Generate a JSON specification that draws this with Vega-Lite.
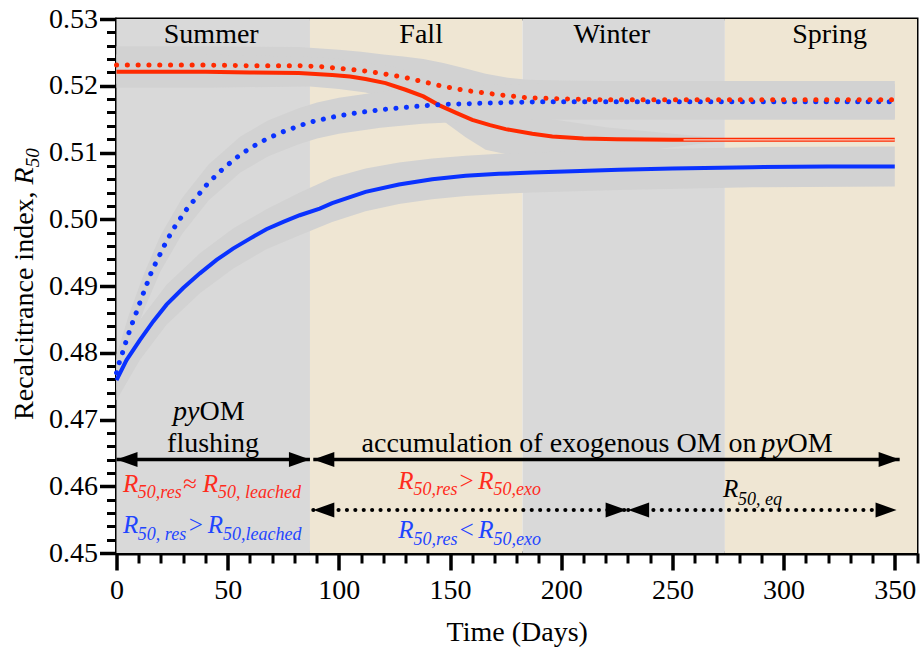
{
  "$schema": "https://vega.github.io/schema/vega-lite/v6.json",
  "width": 800.5,
  "height": 534,
  "autosize": "none",
  "padding": {"left": 116.5, "top": 19, "right": 3, "bottom": 98},
  "background": "white",
  "config": {
    "view": {"stroke": "black", "strokeWidth": 3},
    "text": {"font": "Liberation Serif"},
    "axis": {"labelFont": "Liberation Serif", "titleFont": "Liberation Serif"}
  },
  "datasets": {
    "seasons": [
      {"season": "Summer", "start": 0, "end": 87},
      {"season": "Fall", "start": 87, "end": 182.6},
      {"season": "Winter", "start": 182.6, "end": 273.6},
      {"season": "Spring", "start": 273.6, "end": 360}
    ],
    "bands": [
      {"band": "rd", "day": 0, "lo": 0.5203, "hi": 0.5259},
      {"band": "rd", "day": 40, "lo": 0.5203, "hi": 0.5259},
      {"band": "rd", "day": 82, "lo": 0.5202, "hi": 0.5258},
      {"band": "rd", "day": 100, "lo": 0.5198, "hi": 0.5254},
      {"band": "rd", "day": 110, "lo": 0.5195, "hi": 0.5251},
      {"band": "rd", "day": 120, "lo": 0.519, "hi": 0.5247},
      {"band": "rd", "day": 129, "lo": 0.5185, "hi": 0.5244},
      {"band": "rd", "day": 138, "lo": 0.5178, "hi": 0.524},
      {"band": "rd", "day": 147, "lo": 0.5171, "hi": 0.5234},
      {"band": "rd", "day": 157, "lo": 0.5165, "hi": 0.5226},
      {"band": "rd", "day": 166, "lo": 0.5161, "hi": 0.5218},
      {"band": "rd", "day": 176, "lo": 0.5157, "hi": 0.5212},
      {"band": "rd", "day": 185, "lo": 0.5154, "hi": 0.5209},
      {"band": "rd", "day": 200, "lo": 0.5152, "hi": 0.5208},
      {"band": "rd", "day": 220, "lo": 0.5151, "hi": 0.5207},
      {"band": "rd", "day": 350, "lo": 0.5151, "hi": 0.5207},
      {"band": "rs", "day": 0, "lo": 0.5197, "hi": 0.5247},
      {"band": "rs", "day": 40, "lo": 0.5197, "hi": 0.5247},
      {"band": "rs", "day": 87, "lo": 0.5199, "hi": 0.5243},
      {"band": "rs", "day": 100, "lo": 0.5195, "hi": 0.524},
      {"band": "rs", "day": 112, "lo": 0.519, "hi": 0.5234},
      {"band": "rs", "day": 125, "lo": 0.5178, "hi": 0.5228},
      {"band": "rs", "day": 135, "lo": 0.5165, "hi": 0.522},
      {"band": "rs", "day": 145, "lo": 0.5152, "hi": 0.5208},
      {"band": "rs", "day": 157, "lo": 0.5123, "hi": 0.5192},
      {"band": "rs", "day": 166, "lo": 0.5104, "hi": 0.518},
      {"band": "rs", "day": 180, "lo": 0.5094, "hi": 0.5166},
      {"band": "rs", "day": 196, "lo": 0.5095, "hi": 0.515},
      {"band": "rs", "day": 220, "lo": 0.5099, "hi": 0.5138},
      {"band": "rs", "day": 241, "lo": 0.5104, "hi": 0.5131},
      {"band": "rs", "day": 260, "lo": 0.5112, "hi": 0.5125},
      {"band": "rs", "day": 275, "lo": 0.5118, "hi": 0.512},
      {"band": "rs", "day": 290, "lo": 0.5119, "hi": 0.5119},
      {"band": "rs", "day": 350, "lo": 0.5119, "hi": 0.5119},
      {"band": "bd", "day": 0, "lo": 0.4743, "hi": 0.4797},
      {"band": "bd", "day": 5.7, "lo": 0.4804, "hi": 0.4858},
      {"band": "bd", "day": 12.3, "lo": 0.4864, "hi": 0.4918},
      {"band": "bd", "day": 19.8, "lo": 0.4922, "hi": 0.4976},
      {"band": "bd", "day": 29.5, "lo": 0.4978, "hi": 0.5032},
      {"band": "bd", "day": 41.4, "lo": 0.5028, "hi": 0.5082},
      {"band": "bd", "day": 55.7, "lo": 0.507, "hi": 0.5124},
      {"band": "bd", "day": 68.1, "lo": 0.5094, "hi": 0.5148},
      {"band": "bd", "day": 81.6, "lo": 0.5112, "hi": 0.5166},
      {"band": "bd", "day": 90.2, "lo": 0.5121, "hi": 0.5175},
      {"band": "bd", "day": 100, "lo": 0.5128, "hi": 0.5182},
      {"band": "bd", "day": 118.7, "lo": 0.5137, "hi": 0.5191},
      {"band": "bd", "day": 137.6, "lo": 0.5143, "hi": 0.5197},
      {"band": "bd", "day": 157, "lo": 0.5146, "hi": 0.52},
      {"band": "bd", "day": 176, "lo": 0.5148, "hi": 0.5202},
      {"band": "bd", "day": 190, "lo": 0.5149, "hi": 0.5203},
      {"band": "bd", "day": 350, "lo": 0.5149, "hi": 0.5203},
      {"band": "bs", "day": 0, "lo": 0.4729, "hi": 0.4789},
      {"band": "bs", "day": 10.5, "lo": 0.4789, "hi": 0.4849},
      {"band": "bs", "day": 22.5, "lo": 0.4842, "hi": 0.4902},
      {"band": "bs", "day": 37.5, "lo": 0.4889, "hi": 0.4949},
      {"band": "bs", "day": 52.4, "lo": 0.4926, "hi": 0.4986},
      {"band": "bs", "day": 67.4, "lo": 0.4955, "hi": 0.5015},
      {"band": "bs", "day": 82.4, "lo": 0.4976, "hi": 0.504},
      {"band": "bs", "day": 97, "lo": 0.4996, "hi": 0.5062},
      {"band": "bs", "day": 112, "lo": 0.5012, "hi": 0.5076},
      {"band": "bs", "day": 127, "lo": 0.5023, "hi": 0.5085},
      {"band": "bs", "day": 142, "lo": 0.503, "hi": 0.5091},
      {"band": "bs", "day": 157, "lo": 0.5035, "hi": 0.5095},
      {"band": "bs", "day": 172, "lo": 0.5038, "hi": 0.5098},
      {"band": "bs", "day": 187, "lo": 0.504, "hi": 0.51},
      {"band": "bs", "day": 226, "lo": 0.5044, "hi": 0.5104},
      {"band": "bs", "day": 286, "lo": 0.5048, "hi": 0.5108},
      {"band": "bs", "day": 350, "lo": 0.5049, "hi": 0.5109}
    ],
    "curves": [
      {"series": "rd", "day": 0, "value": 0.5231},
      {"series": "rd", "day": 20, "value": 0.5231},
      {"series": "rd", "day": 40, "value": 0.5231},
      {"series": "rd", "day": 60, "value": 0.523},
      {"series": "rd", "day": 82, "value": 0.523},
      {"series": "rd", "day": 91, "value": 0.5229},
      {"series": "rd", "day": 100, "value": 0.5226},
      {"series": "rd", "day": 110, "value": 0.5223},
      {"series": "rd", "day": 120, "value": 0.5218},
      {"series": "rd", "day": 129, "value": 0.5213},
      {"series": "rd", "day": 138, "value": 0.5206},
      {"series": "rd", "day": 147, "value": 0.5199},
      {"series": "rd", "day": 157, "value": 0.5193},
      {"series": "rd", "day": 166, "value": 0.5189},
      {"series": "rd", "day": 176, "value": 0.5185},
      {"series": "rd", "day": 185, "value": 0.5182},
      {"series": "rd", "day": 195, "value": 0.5181},
      {"series": "rd", "day": 205, "value": 0.518},
      {"series": "rd", "day": 220, "value": 0.5179},
      {"series": "rd", "day": 250, "value": 0.5179},
      {"series": "rd", "day": 300, "value": 0.5179},
      {"series": "rd", "day": 350, "value": 0.5179},
      {"series": "rs", "day": 0, "value": 0.5221},
      {"series": "rs", "day": 20, "value": 0.5221},
      {"series": "rs", "day": 40, "value": 0.5221},
      {"series": "rs", "day": 60, "value": 0.522},
      {"series": "rs", "day": 82, "value": 0.5219},
      {"series": "rs", "day": 97, "value": 0.5216},
      {"series": "rs", "day": 105, "value": 0.5214},
      {"series": "rs", "day": 112, "value": 0.521},
      {"series": "rs", "day": 121, "value": 0.5204},
      {"series": "rs", "day": 130, "value": 0.5194},
      {"series": "rs", "day": 138, "value": 0.5184},
      {"series": "rs", "day": 145, "value": 0.5171},
      {"series": "rs", "day": 153, "value": 0.5159},
      {"series": "rs", "day": 160, "value": 0.5149},
      {"series": "rs", "day": 168, "value": 0.5141},
      {"series": "rs", "day": 175, "value": 0.5135},
      {"series": "rs", "day": 187, "value": 0.5128},
      {"series": "rs", "day": 196, "value": 0.5124},
      {"series": "rs", "day": 210, "value": 0.5121},
      {"series": "rs", "day": 225, "value": 0.512},
      {"series": "rs", "day": 250, "value": 0.5119},
      {"series": "rs", "day": 300, "value": 0.5119},
      {"series": "rs", "day": 350, "value": 0.5119},
      {"series": "rsh", "day": 255, "value": 0.5119},
      {"series": "rsh", "day": 350, "value": 0.5119},
      {"series": "bd", "day": 0, "value": 0.477},
      {"series": "bd", "day": 1.2, "value": 0.4785},
      {"series": "bd", "day": 2.7, "value": 0.48},
      {"series": "bd", "day": 4.2, "value": 0.4816},
      {"series": "bd", "day": 5.7, "value": 0.4831},
      {"series": "bd", "day": 7.3, "value": 0.4846},
      {"series": "bd", "day": 9.0, "value": 0.4861},
      {"series": "bd", "day": 10.6, "value": 0.4876},
      {"series": "bd", "day": 12.3, "value": 0.4891},
      {"series": "bd", "day": 14, "value": 0.4906},
      {"series": "bd", "day": 15.7, "value": 0.4921},
      {"series": "bd", "day": 17.7, "value": 0.4935},
      {"series": "bd", "day": 19.8, "value": 0.4949},
      {"series": "bd", "day": 22, "value": 0.4964},
      {"series": "bd", "day": 24.3, "value": 0.4978},
      {"series": "bd", "day": 26.8, "value": 0.4992},
      {"series": "bd", "day": 29.5, "value": 0.5005},
      {"series": "bd", "day": 32.2, "value": 0.5018},
      {"series": "bd", "day": 35.3, "value": 0.503},
      {"series": "bd", "day": 38.4, "value": 0.5043},
      {"series": "bd", "day": 41.4, "value": 0.5055},
      {"series": "bd", "day": 44.9, "value": 0.5066},
      {"series": "bd", "day": 48.3, "value": 0.5077},
      {"series": "bd", "day": 52.1, "value": 0.5087},
      {"series": "bd", "day": 55.7, "value": 0.5097},
      {"series": "bd", "day": 59.9, "value": 0.5106},
      {"series": "bd", "day": 63.9, "value": 0.5114},
      {"series": "bd", "day": 68.1, "value": 0.5121},
      {"series": "bd", "day": 72.6, "value": 0.5128},
      {"series": "bd", "day": 77.1, "value": 0.5134},
      {"series": "bd", "day": 81.6, "value": 0.5139},
      {"series": "bd", "day": 85.5, "value": 0.5144},
      {"series": "bd", "day": 90.2, "value": 0.5148},
      {"series": "bd", "day": 100, "value": 0.5155},
      {"series": "bd", "day": 109.4, "value": 0.516},
      {"series": "bd", "day": 118.7, "value": 0.5164},
      {"series": "bd", "day": 128, "value": 0.5167},
      {"series": "bd", "day": 137.6, "value": 0.517},
      {"series": "bd", "day": 147, "value": 0.5172},
      {"series": "bd", "day": 157, "value": 0.5173},
      {"series": "bd", "day": 166, "value": 0.5174},
      {"series": "bd", "day": 176, "value": 0.5175},
      {"series": "bd", "day": 190, "value": 0.5176},
      {"series": "bd", "day": 220, "value": 0.5176},
      {"series": "bd", "day": 260, "value": 0.5176},
      {"series": "bd", "day": 300, "value": 0.5176},
      {"series": "bd", "day": 350, "value": 0.5176},
      {"series": "bs", "day": 0, "value": 0.4759},
      {"series": "bs", "day": 4.5, "value": 0.4789},
      {"series": "bs", "day": 10.5, "value": 0.4819},
      {"series": "bs", "day": 16.5, "value": 0.4847},
      {"series": "bs", "day": 22.5, "value": 0.4872},
      {"series": "bs", "day": 30, "value": 0.4897},
      {"series": "bs", "day": 37.5, "value": 0.4919},
      {"series": "bs", "day": 45, "value": 0.4939},
      {"series": "bs", "day": 52.4, "value": 0.4956},
      {"series": "bs", "day": 60, "value": 0.4971},
      {"series": "bs", "day": 67.4, "value": 0.4985},
      {"series": "bs", "day": 75, "value": 0.4996},
      {"series": "bs", "day": 82.4, "value": 0.5006},
      {"series": "bs", "day": 91.4, "value": 0.5016},
      {"series": "bs", "day": 97, "value": 0.5024},
      {"series": "bs", "day": 112, "value": 0.5041},
      {"series": "bs", "day": 127, "value": 0.5052},
      {"series": "bs", "day": 142, "value": 0.506},
      {"series": "bs", "day": 157, "value": 0.5065},
      {"series": "bs", "day": 172, "value": 0.5068},
      {"series": "bs", "day": 187, "value": 0.507},
      {"series": "bs", "day": 205, "value": 0.5072},
      {"series": "bs", "day": 226, "value": 0.5074},
      {"series": "bs", "day": 250, "value": 0.5076},
      {"series": "bs", "day": 286, "value": 0.5078},
      {"series": "bs", "day": 320, "value": 0.5079},
      {"series": "bs", "day": 350, "value": 0.5079}
    ],
    "arrows": [
      {"style": "solid", "from": 0, "to": 87, "level": 0.4640},
      {"style": "solid", "from": 88.5, "to": 352.2, "level": 0.4640},
      {"style": "dotted", "from": 88.5, "to": 229.4, "level": 0.45645},
      {"style": "dotted", "from": 230.1, "to": 350.8, "level": 0.45645}
    ],
    "heads": [
      {"dir": "left", "day": 0, "level": 0.4640},
      {"dir": "right", "day": 87, "level": 0.4640},
      {"dir": "left", "day": 88.5, "level": 0.4640},
      {"dir": "right", "day": 352.2, "level": 0.4640},
      {"dir": "left", "day": 88.5, "level": 0.45645},
      {"dir": "right", "day": 229.4, "level": 0.45645},
      {"dir": "left", "day": 230.1, "level": 0.45645},
      {"dir": "right", "day": 350.8, "level": 0.45645}
    ],
    "texts": [
      {"kind": "season", "refers": "none", "text": "Summer", "day": 42.6, "value": 0.5264},
      {"kind": "season", "refers": "none", "text": "Fall", "day": 137, "value": 0.5264},
      {"kind": "season", "refers": "none", "text": "Winter", "day": 222.7, "value": 0.5264},
      {"kind": "season", "refers": "none", "text": "Spring", "day": 320.7, "value": 0.5264},
      {"kind": "regc", "refers": "none", "text": "flushing", "day": 43.4, "value": 0.46518},
      {"kind": "ital", "refers": "none", "text": "py", "day": 25.4, "value": 0.46993},
      {"kind": "regl", "refers": "none", "text": "OM", "day": 37.3, "value": 0.46993},
      {"kind": "regl", "refers": "none", "text": "accumulation of exogenous OM on", "day": 110.2, "value": 0.46518},
      {"kind": "ital", "refers": "none", "text": "py", "day": 290.0, "value": 0.46518},
      {"kind": "regl", "refers": "none", "text": "OM", "day": 301.8, "value": 0.46518},
      {"kind": "main", "refers": "red", "text": "R", "day": 2.92, "value": 0.45918},
      {"kind": "sub", "refers": "red", "text": "50,res", "day": 9.6, "value": 0.45818},
      {"kind": "main", "refers": "red", "text": "≈", "day": 29.8, "value": 0.45918},
      {"kind": "main", "refers": "red", "text": "R", "day": 38.8, "value": 0.45918},
      {"kind": "sub", "refers": "red", "text": "50, leached", "day": 45.7, "value": 0.45818},
      {"kind": "main", "refers": "blue", "text": "R", "day": 2.92, "value": 0.45295},
      {"kind": "sub", "refers": "blue", "text": "50, res", "day": 9.6, "value": 0.45195},
      {"kind": "main", "refers": "blue", "text": ">", "day": 31.8, "value": 0.45295},
      {"kind": "main", "refers": "blue", "text": "R", "day": 41.0, "value": 0.45295},
      {"kind": "sub", "refers": "blue", "text": "50,leached", "day": 47.9, "value": 0.45195},
      {"kind": "main", "refers": "red", "text": "R", "day": 126.7, "value": 0.45966},
      {"kind": "sub", "refers": "red", "text": "50,res", "day": 133.6, "value": 0.45866},
      {"kind": "main", "refers": "red", "text": ">", "day": 153.6, "value": 0.45966},
      {"kind": "main", "refers": "red", "text": "R", "day": 162.7, "value": 0.45966},
      {"kind": "sub", "refers": "red", "text": "50,exo", "day": 169.6, "value": 0.45866},
      {"kind": "main", "refers": "blue", "text": "R", "day": 126.7, "value": 0.4522},
      {"kind": "sub", "refers": "blue", "text": "50,res", "day": 133.6, "value": 0.4512},
      {"kind": "main", "refers": "blue", "text": "<", "day": 153.6, "value": 0.4522},
      {"kind": "main", "refers": "blue", "text": "R", "day": 162.7, "value": 0.4522},
      {"kind": "sub", "refers": "blue", "text": "50,exo", "day": 169.6, "value": 0.4512},
      {"kind": "main", "refers": "none", "text": "R", "day": 272.7, "value": 0.45844},
      {"kind": "sub", "refers": "none", "text": "50, eq", "day": 279.5, "value": 0.4572},
      {"kind": "ytitle", "refers": "none", "text": "Recalcitrance index,", "day": -37.4, "value": 0.46993},
      {"kind": "ytitleR", "refers": "none", "text": "R", "day": -37.4, "value": 0.50522},
      {"kind": "ytitlesub", "refers": "none", "text": "50", "day": -34.8, "value": 0.50778}
    ]
  },
  "layer": [
    {
      "data": {"name": "seasons"},
      "mark": {"type": "rect"},
      "encoding": {
        "x": {"field": "start", "type": "quantitative", "scale": {"domain": [0, 360], "nice": false, "zero": false},
          "axis": {"orient": "bottom", "values": [10,20,30,40,60,70,80,90,110,120,130,140,160,170,180,190,210,220,230,240,260,270,280,290,310,320,330,340,360], "labels": false, "domain": false, "grid": false, "tickSize": 10, "tickWidth": 3, "tickColor": "black", "title": null}},
        "x2": {"field": "end"},
        "y": {"datum": 0.45, "type": "quantitative", "scale": {"domain": [0.45, 0.53], "nice": false, "zero": false},
          "axis": {"orient": "left", "values": [0.452,0.454,0.456,0.458,0.462,0.464,0.466,0.468,0.472,0.474,0.476,0.478,0.482,0.484,0.486,0.488,0.492,0.494,0.496,0.498,0.502,0.504,0.506,0.508,0.512,0.514,0.516,0.518,0.522,0.524,0.526,0.528], "labels": false, "domain": false, "grid": false, "tickSize": 10, "tickWidth": 3, "tickColor": "black", "title": null}},
        "y2": {"datum": 0.53},
        "color": {"field": "season", "type": "nominal", "scale": {"domain": ["Summer", "Fall", "Winter", "Spring"], "range": ["#d9d9d9", "#efe6d3", "#d9d9d9", "#efe6d3"]}, "legend": null}
      }
    },
    {
      "layer": [
        {
          "data": {"name": "bands"},
          "mark": {"type": "area", "color": "#d2d2d2", "opacity": 1},
          "encoding": {
            "x": {"field": "day", "type": "quantitative", "scale": {"domain": [0, 360], "nice": false, "zero": false},
              "axis": {"orient": "bottom", "values": [0,50,100,150,200,250,300,350], "tickSize": 17, "tickWidth": 3.5, "tickColor": "black", "domainColor": "black", "domainWidth": 4, "labelFontSize": 28, "labelColor": "black", "labelPadding": 6, "labelFlush": false, "labelOverlap": false, "grid": false, "title": "Time (Days)", "titleFontSize": 28, "titleFontWeight": "normal", "titleColor": "black", "titlePadding": 14}},
            "y": {"field": "lo", "type": "quantitative", "scale": {"domain": [0.45, 0.53], "nice": false, "zero": false},
              "axis": {"orient": "left", "values": [0.45,0.46,0.47,0.48,0.49,0.5,0.51,0.52,0.53], "format": ".2f", "tickSize": 17, "tickWidth": 3.5, "tickColor": "black", "domainColor": "black", "domainWidth": 4, "labelFontSize": 28, "labelColor": "black", "labelPadding": 2, "labelFlush": false, "labelOverlap": false, "grid": false, "title": null}},
            "y2": {"field": "hi"},
            "detail": {"field": "band"}
          }
        },
        {
          "data": {"name": "curves"},
          "transform": [{"filter": "datum.series === 'rs'"}],
          "mark": {"type": "line", "color": "#ff2a00", "strokeWidth": 4},
          "encoding": {
            "x": {"field": "day", "type": "quantitative", "scale": {"domain": [0, 360], "nice": false, "zero": false}},
            "y": {"field": "value", "type": "quantitative", "scale": {"domain": [0.45, 0.53], "nice": false, "zero": false}}
          }
        },
        {
          "data": {"name": "curves"},
          "transform": [{"filter": "datum.series === 'rsh'"}],
          "mark": {"type": "line", "color": "#f8cfc2", "strokeWidth": 1.3},
          "encoding": {
            "x": {"field": "day", "type": "quantitative", "scale": {"domain": [0, 360], "nice": false, "zero": false}},
            "y": {"field": "value", "type": "quantitative", "scale": {"domain": [0.45, 0.53], "nice": false, "zero": false}}
          }
        },
        {
          "data": {"name": "curves"},
          "transform": [{"filter": "datum.series === 'bs'"}],
          "mark": {"type": "line", "color": "#0a32ff", "strokeWidth": 4},
          "encoding": {
            "x": {"field": "day", "type": "quantitative", "scale": {"domain": [0, 360], "nice": false, "zero": false}},
            "y": {"field": "value", "type": "quantitative", "scale": {"domain": [0.45, 0.53], "nice": false, "zero": false}}
          }
        },
        {
          "data": {"name": "curves"},
          "transform": [{"filter": "datum.series === 'bd'"}],
          "mark": {"type": "line", "color": "#0a32ff", "strokeWidth": 5, "strokeCap": "round", "strokeDash": [0.1, 10.4]},
          "encoding": {
            "x": {"field": "day", "type": "quantitative", "scale": {"domain": [0, 360], "nice": false, "zero": false}},
            "y": {"field": "value", "type": "quantitative", "scale": {"domain": [0.45, 0.53], "nice": false, "zero": false}}
          }
        },
        {
          "data": {"name": "curves"},
          "transform": [{"filter": "datum.series === 'rd'"}],
          "mark": {"type": "line", "color": "#ff2a00", "strokeWidth": 5, "strokeCap": "round", "strokeDash": [0.1, 10.7]},
          "encoding": {
            "x": {"field": "day", "type": "quantitative", "scale": {"domain": [0, 360], "nice": false, "zero": false}},
            "y": {"field": "value", "type": "quantitative", "scale": {"domain": [0.45, 0.53], "nice": false, "zero": false}}
          }
        },
        {
          "data": {"name": "arrows"},
          "transform": [{"filter": "datum.style === 'solid'"}],
          "mark": {"type": "rule", "color": "black", "strokeWidth": 3.5},
          "encoding": {
            "x": {"field": "from", "type": "quantitative", "scale": {"domain": [0, 360], "nice": false, "zero": false}},
            "x2": {"field": "to"},
            "y": {"field": "level", "type": "quantitative", "scale": {"domain": [0.45, 0.53], "nice": false, "zero": false}}
          }
        },
        {
          "data": {"name": "arrows"},
          "transform": [{"filter": "datum.style === 'dotted'"}],
          "mark": {"type": "rule", "color": "black", "strokeWidth": 4, "strokeCap": "round", "strokeDash": [0.1, 8.3]},
          "encoding": {
            "x": {"field": "from", "type": "quantitative", "scale": {"domain": [0, 360], "nice": false, "zero": false}},
            "x2": {"field": "to"},
            "y": {"field": "level", "type": "quantitative", "scale": {"domain": [0.45, 0.53], "nice": false, "zero": false}}
          }
        },
        {
          "data": {"name": "heads"},
          "mark": {"type": "point", "filled": true, "color": "black", "opacity": 1, "size": 441, "strokeWidth": 0},
          "encoding": {
            "x": {"field": "day", "type": "quantitative", "scale": {"domain": [0, 360], "nice": false, "zero": false}},
            "y": {"field": "level", "type": "quantitative", "scale": {"domain": [0.45, 0.53], "nice": false, "zero": false}},
            "shape": {"field": "dir", "type": "nominal", "scale": {"domain": ["left", "right"], "range": ["M0,0L2,-0.72L2,0.72Z", "M0,0L-2,-0.72L-2,0.72Z"]}, "legend": null}
          }
        },
        {
          "data": {"name": "texts"},
          "transform": [{"filter": "datum.kind === 'season' || datum.kind === 'regc'"}],
          "mark": {"type": "text", "font": "Liberation Serif", "fontSize": 28, "align": "center", "baseline": "alphabetic", "color": "black"},
          "encoding": {
            "x": {"field": "day", "type": "quantitative", "scale": {"domain": [0, 360], "nice": false, "zero": false}},
            "y": {"field": "value", "type": "quantitative", "scale": {"domain": [0.45, 0.53], "nice": false, "zero": false}},
            "text": {"field": "text"}
          }
        },
        {
          "data": {"name": "texts"},
          "transform": [{"filter": "datum.kind === 'regl'"}],
          "mark": {"type": "text", "font": "Liberation Serif", "fontSize": 28, "align": "left", "baseline": "alphabetic", "color": "black"},
          "encoding": {
            "x": {"field": "day", "type": "quantitative", "scale": {"domain": [0, 360], "nice": false, "zero": false}},
            "y": {"field": "value", "type": "quantitative", "scale": {"domain": [0.45, 0.53], "nice": false, "zero": false}},
            "text": {"field": "text"}
          }
        },
        {
          "data": {"name": "texts"},
          "transform": [{"filter": "datum.kind === 'ital'"}],
          "mark": {"type": "text", "font": "Liberation Serif", "fontSize": 28, "fontStyle": "italic", "align": "left", "baseline": "alphabetic", "color": "black"},
          "encoding": {
            "x": {"field": "day", "type": "quantitative", "scale": {"domain": [0, 360], "nice": false, "zero": false}},
            "y": {"field": "value", "type": "quantitative", "scale": {"domain": [0.45, 0.53], "nice": false, "zero": false}},
            "text": {"field": "text"}
          }
        },
        {
          "data": {"name": "texts"},
          "transform": [{"filter": "datum.kind === 'main'"}],
          "mark": {"type": "text", "font": "Liberation Serif", "fontSize": 25, "fontStyle": "italic", "align": "left", "baseline": "alphabetic"},
          "encoding": {
            "x": {"field": "day", "type": "quantitative", "scale": {"domain": [0, 360], "nice": false, "zero": false}},
            "y": {"field": "value", "type": "quantitative", "scale": {"domain": [0.45, 0.53], "nice": false, "zero": false}},
            "text": {"field": "text"},
            "color": {"field": "refers", "type": "nominal", "scale": {"domain": ["none", "red", "blue"], "range": ["#000000", "#ff2b1c", "#1f45ff"]}, "legend": null}
          }
        },
        {
          "data": {"name": "texts"},
          "transform": [{"filter": "datum.kind === 'sub'"}],
          "mark": {"type": "text", "font": "Liberation Serif", "fontSize": 18, "fontStyle": "italic", "align": "left", "baseline": "alphabetic"},
          "encoding": {
            "x": {"field": "day", "type": "quantitative", "scale": {"domain": [0, 360], "nice": false, "zero": false}},
            "y": {"field": "value", "type": "quantitative", "scale": {"domain": [0.45, 0.53], "nice": false, "zero": false}},
            "text": {"field": "text"},
            "color": {"field": "refers", "type": "nominal", "scale": {"domain": ["none", "red", "blue"], "range": ["#000000", "#ff2b1c", "#1f45ff"]}, "legend": null}
          }
        },
        {
          "data": {"name": "texts"},
          "transform": [{"filter": "datum.kind === 'ytitle'"}],
          "mark": {"type": "text", "font": "Liberation Serif", "fontSize": 28, "angle": 270, "align": "left", "baseline": "alphabetic", "color": "black"},
          "encoding": {
            "x": {"field": "day", "type": "quantitative", "scale": {"domain": [0, 360], "nice": false, "zero": false}},
            "y": {"field": "value", "type": "quantitative", "scale": {"domain": [0.45, 0.53], "nice": false, "zero": false}},
            "text": {"field": "text"}
          }
        },
        {
          "data": {"name": "texts"},
          "transform": [{"filter": "datum.kind === 'ytitleR'"}],
          "mark": {"type": "text", "font": "Liberation Serif", "fontSize": 28, "fontStyle": "italic", "angle": 270, "align": "left", "baseline": "alphabetic", "color": "black"},
          "encoding": {
            "x": {"field": "day", "type": "quantitative", "scale": {"domain": [0, 360], "nice": false, "zero": false}},
            "y": {"field": "value", "type": "quantitative", "scale": {"domain": [0.45, 0.53], "nice": false, "zero": false}},
            "text": {"field": "text"}
          }
        },
        {
          "data": {"name": "texts"},
          "transform": [{"filter": "datum.kind === 'ytitlesub'"}],
          "mark": {"type": "text", "font": "Liberation Serif", "fontSize": 19, "fontStyle": "italic", "angle": 270, "align": "left", "baseline": "alphabetic", "color": "black"},
          "encoding": {
            "x": {"field": "day", "type": "quantitative", "scale": {"domain": [0, 360], "nice": false, "zero": false}},
            "y": {"field": "value", "type": "quantitative", "scale": {"domain": [0.45, 0.53], "nice": false, "zero": false}},
            "text": {"field": "text"}
          }
        }
      ]
    }
  ],
  "resolve": {"scale": {"x": "independent", "y": "independent", "color": "independent", "shape": "independent"}}
}
